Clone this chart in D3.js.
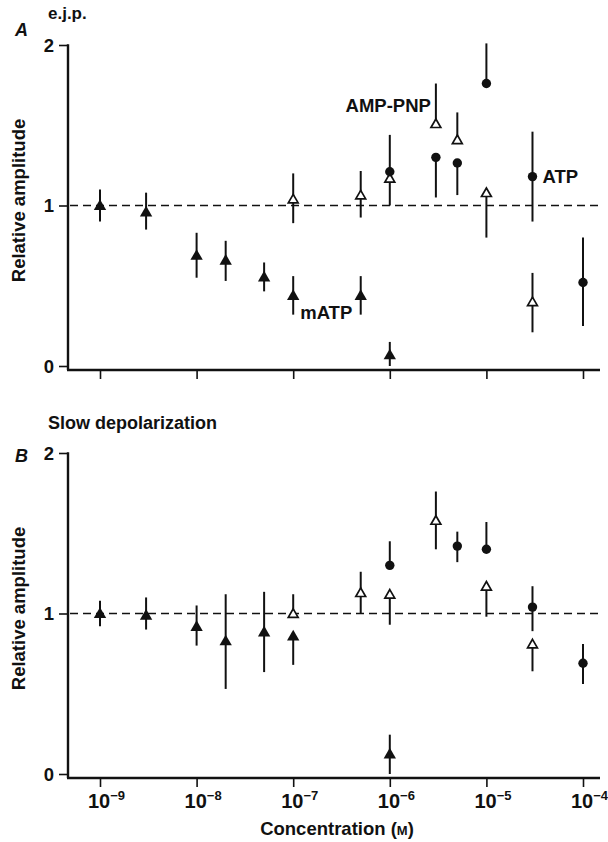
<!DOCTYPE html>
<html><head><meta charset="utf-8">
<script src="https://cdn.jsdelivr.net/npm/d3@7"></script>
<style>
html,body{margin:0;padding:0;background:#fff;}
svg text{font-family:"Liberation Sans",Arial,Helvetica,sans-serif;fill:#111;}
</style></head>
<body>
<svg id="chart" width="608" height="842"></svg>
<script>
// Each point: [concentration (M), mean relative amplitude, error above, error below]
// (0 means that side of the error bar is not drawn)
const ejpMATP = [
  [1e-9, 1.00, 0.10, 0.10], [3e-9, 0.96, 0.12, 0.11], [1e-8, 0.69, 0.14, 0.14],
  [2e-8, 0.66, 0.12, 0.13], [5e-8, 0.555, 0.09, 0.09], [1e-7, 0.44, 0.12, 0.12],
  [5e-7, 0.44, 0.12, 0.12], [1e-6, 0.07, 0.08, 0.07]
];
const ejpAMPPNP = [
  [1e-7, 1.04, 0.16, 0.15], [5e-7, 1.065, 0.15, 0.14], [1e-6, 1.17, 0, 0.17],
  [3e-6, 1.51, 0.25, 0], [5e-6, 1.41, 0.17, 0], [1e-5, 1.08, 0, 0.28],
  [3e-5, 0.40, 0.18, 0.19]
];
const ejpATP = [
  [1e-6, 1.21, 0.23, 0], [3e-6, 1.30, 0, 0.25], [5e-6, 1.265, 0, 0.20],
  [1e-5, 1.76, 0.25, 0], [3e-5, 1.18, 0.28, 0.28], [1e-4, 0.52, 0.28, 0.27]
];
const slowMATP = [
  [1e-9, 1.00, 0.08, 0.08], [3e-9, 0.99, 0.11, 0.09], [1e-8, 0.92, 0.13, 0.12],
  [2e-8, 0.83, 0.29, 0.30], [5e-8, 0.885, 0.25, 0.25], [1e-7, 0.86, 0, 0.18],
  [1e-6, 0.125, 0.12, 0.125]
];
const slowAMPPNP = [
  [1e-7, 1.00, 0.12, 0], [5e-7, 1.13, 0.13, 0.13], [1e-6, 1.12, 0, 0.19],
  [3e-6, 1.58, 0.18, 0.18], [1e-5, 1.17, 0, 0.19], [3e-5, 0.81, 0, 0.17]
];
const slowATP = [
  [1e-6, 1.30, 0.15, 0], [5e-6, 1.42, 0.09, 0.10], [1e-5, 1.40, 0.17, 0],
  [3e-5, 1.04, 0.13, 0.15], [1e-4, 0.69, 0.12, 0.13]
];
const xTickValues = [1e-9, 1e-8, 1e-7, 1e-6, 1e-5, 1e-4];
const xTickExponents = ["\u22129", "\u22128", "\u22127", "\u22126", "\u22125", "\u22124"];
const yTickValues = [0, 1, 2];
const referenceLevel = 1;

const svg = d3.select("#chart");
const ink = "#111";
const x = d3.scaleLog().domain([1e-9, 1e-4]).range([100, 583]);
const axisLeftX = 68, axisRightX = 600;

function panel(yRange, axisY, sets, showXLabels) {
  const y = d3.scaleLinear().domain([0, 2]).range(yRange);
  const g = svg.append("g");

  // y axis
  const ya = g.append("g").attr("transform", `translate(${axisLeftX},0)`)
    .call(d3.axisLeft(y).tickValues(yTickValues).tickSize(9).tickSizeOuter(0).tickPadding(5).tickFormat(d3.format("d")));
  ya.select(".domain").remove();
  ya.selectAll(".tick line").attr("stroke", ink).attr("stroke-width", 1.6);
  ya.selectAll(".tick text").attr("font-size", 18.5).attr("font-weight", "bold").attr("fill", ink).attr("dy", "0.34em");
  g.append("line").attr("x1", axisLeftX).attr("x2", axisLeftX)
    .attr("y1", y(2) - 0.8).attr("y2", axisY).attr("stroke", ink).attr("stroke-width", 2.4);

  // x axis
  const xa = g.append("g").attr("transform", `translate(0,${axisY})`)
    .call(d3.axisBottom(x).tickValues(xTickValues).tickSize(9).tickSizeOuter(0).tickFormat(""));
  xa.select(".domain").remove();
  xa.selectAll(".tick line").attr("stroke", ink).attr("stroke-width", 1.6);
  g.append("line").attr("x1", axisLeftX - 1).attr("x2", axisRightX)
    .attr("y1", axisY).attr("y2", axisY).attr("stroke", ink).attr("stroke-width", 2.4);

  if (showXLabels) {
    const t = xa.selectAll(".tick").append("text")
      .attr("x", -12.5).attr("y", 29.5).attr("text-anchor", "start").attr("fill", ink)
      .attr("font-weight", "bold");
    t.append("tspan").attr("font-size", 20).text("10");
    t.append("tspan").attr("font-size", 13).attr("dy", -8).text((d, i) => xTickExponents[i]);
  }

  // reference dashed line
  g.append("line").attr("x1", axisLeftX + 2).attr("x2", axisRightX)
    .attr("y1", y(referenceLevel)).attr("y2", y(referenceLevel))
    .attr("stroke", ink).attr("stroke-width", 1.6).attr("stroke-dasharray", "8,5");

  // error bars
  const all = [].concat(sets.matp, sets.amppnp, sets.atp);
  g.append("g").selectAll("line").data(all).join("line")
    .attr("x1", d => x(d[0])).attr("x2", d => x(d[0]))
    .attr("y1", d => y(d[1] + d[2])).attr("y2", d => y(d[1] - d[3]))
    .attr("stroke", ink).attr("stroke-width", 2);

  const triFilled = d3.symbol().type(d3.symbolTriangle).size(66);
  const triOpen = d3.symbol().type(d3.symbolTriangle).size(42);

  g.append("g").selectAll("path").data(sets.matp).join("path")
    .attr("transform", d => `translate(${x(d[0])},${y(d[1]) + 1})`)
    .attr("d", triFilled).attr("fill", ink);
  g.append("g").selectAll("path").data(sets.amppnp).join("path")
    .attr("transform", d => `translate(${x(d[0])},${y(d[1]) + 1})`)
    .attr("d", triOpen).attr("fill", "#fff").attr("stroke", ink).attr("stroke-width", 1.7);
  g.append("g").selectAll("circle").data(sets.atp).join("circle")
    .attr("cx", d => x(d[0])).attr("cy", d => y(d[1])).attr("r", 4.7).attr("fill", ink);

  // y label
  g.append("text").attr("transform", `translate(25,${y(1) - 5}) rotate(-90)`)
    .attr("text-anchor", "middle").attr("font-size", 18.5).attr("font-weight", "bold")
    .text("Relative amplitude");
  return y;
}

const yA = panel([366, 45], 370, { matp: ejpMATP, amppnp: ejpAMPPNP, atp: ejpATP }, false);
const yB = panel([774, 453], 778, { matp: slowMATP, amppnp: slowAMPPNP, atp: slowATP }, true);

// Panel A annotations
svg.append("text").attr("x", 15).attr("y", 36).attr("font-size", 18).attr("font-weight", "bold")
  .attr("font-style", "italic").text("A");
svg.append("text").attr("x", 48).attr("y", 19).attr("font-size", 17).attr("font-weight", "bold").text("e.j.p.");
svg.append("text").attr("x", x(3e-6) - 5).attr("y", yA(1.58)).attr("text-anchor", "end")
  .attr("font-size", 18.5).attr("font-weight", "bold").text("AMP-PNP");
svg.append("text").attr("x", x(3e-5) + 10).attr("y", yA(1.14)).attr("font-size", 18.5)
  .attr("font-weight", "bold").text("ATP");
svg.append("text").attr("x", x(1e-7) + 7).attr("y", yA(0.29)).attr("font-size", 18.5)
  .attr("font-weight", "bold").text("mATP");

// Panel B annotations
svg.append("text").attr("x", 15).attr("y", 462).attr("font-size", 18).attr("font-weight", "bold")
  .attr("font-style", "italic").text("B");
svg.append("text").attr("x", 48).attr("y", 429).attr("font-size", 18).attr("font-weight", "bold")
  .text("Slow depolarization");

// x axis title
const xt = svg.append("text").attr("x", 337).attr("y", 835).attr("text-anchor", "middle")
  .attr("font-size", 18.5).attr("font-weight", "bold");
xt.append("tspan").text("Concentration (");
xt.append("tspan").attr("font-size", 13).text("M");
xt.append("tspan").text(")");
</script>
</body></html>
